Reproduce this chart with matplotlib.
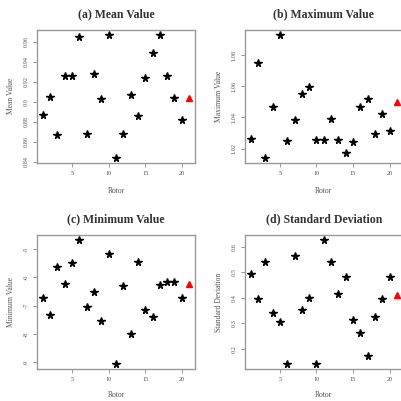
from matplotlib import pyplot as plt

# data: rotors 1-20 (black) plus rotor 21 (red)
rotor = list(range(1, 22))
mean_val = [0.8866, 0.9054, 0.8666, 0.9256, 0.9256, 0.9654, 0.8674, 0.9276, 0.9026, 0.9670,
            0.8440, 0.8674, 0.9066, 0.8860, 0.9236, 0.9490, 0.9674, 0.9264, 0.9036, 0.8824, 0.9036]
max_val = [1.0264, 1.0748, 1.0140, 1.0466, 1.0932, 1.0248, 1.0382, 1.0552, 1.0596, 1.0256,
           1.0252, 1.0392, 1.0254, 1.0174, 1.0242, 1.0464, 1.0516, 1.0294, 1.0420, 1.0312, 1.0500]
min_val = [-6.74, -7.33, -5.62, -6.23, -5.49, -4.68, -7.05, -6.53, -7.55, -5.17,
           -9.06, -6.29, -8.00, -5.46, -7.16, -7.39, -6.26, -6.18, -6.15, -6.74, -6.25]
std_val = [0.492, 0.397, 0.541, 0.339, 0.305, 0.142, 0.563, 0.353, 0.400, 0.142,
           0.626, 0.541, 0.414, 0.482, 0.314, 0.264, 0.173, 0.324, 0.396, 0.482, 0.410]

titles = ["(a) Mean Value", "(b) Maximum Value", "(c) Minimum Value", "(d) Standard Deviation"]
ylabels = ["Mean Value", "Maximum Value", "Minimum Value", "Standard Deviation"]
yticks = [[0.84, 0.86, 0.88, 0.90, 0.92, 0.94, 0.96],
          [1.02, 1.04, 1.06, 1.08],
          [-9, -8, -7, -6, -5],
          [0.2, 0.3, 0.4, 0.5, 0.6]]
xticks = [5, 10, 15, 20]
series = [mean_val, max_val, min_val, std_val]

plt.rcParams['font.family'] = ['Liberation Serif', 'DejaVu Serif']

fig = plt.figure(figsize=(4.02, 4.01), dpi=100)
positions = [[0.092, 0.594, 0.393, 0.332],
             [0.609, 0.594, 0.393, 0.332],
             [0.092, 0.080, 0.393, 0.334],
             [0.609, 0.080, 0.393, 0.334]]

for i in range(4):
    ax = fig.add_axes(positions[i])
    y = series[i]
    ax.plot(rotor[:20], y[:20], linestyle='none', marker='*', color='black', markersize=5.5)
    ax.plot(rotor[20:], y[20:], linestyle='none', marker='^', color='red', markersize=5)
    ax.set_xlim(0.2, 21.8)
    lo, hi = min(y), max(y)
    pad = (hi - lo) * 0.04
    ax.set_ylim(lo - pad, hi + pad)
    ax.set_xticks(xticks)
    ax.set_yticks(yticks[i])
    ax.set_yticklabels([str(v) for v in yticks[i]], rotation=90, va='center')
    ax.tick_params(direction='out', length=3, width=0.6, color='#888888',
                   labelsize=4.5, labelcolor='#555555', pad=3)
    for s in ax.spines.values():
        s.set_color('#999999')
        s.set_linewidth(1.0)
    ax.set_title(titles[i], fontsize=8.5, fontweight='bold', color='#333333', pad=9)
    ax.set_xlabel("Rotor", fontsize=5.5, color='#555555', labelpad=8 if i < 2 else 6)
    ax.set_ylabel(ylabels[i], fontsize=5.5, color='#555555', labelpad=6)

plt.savefig("out.png", dpi=100)
